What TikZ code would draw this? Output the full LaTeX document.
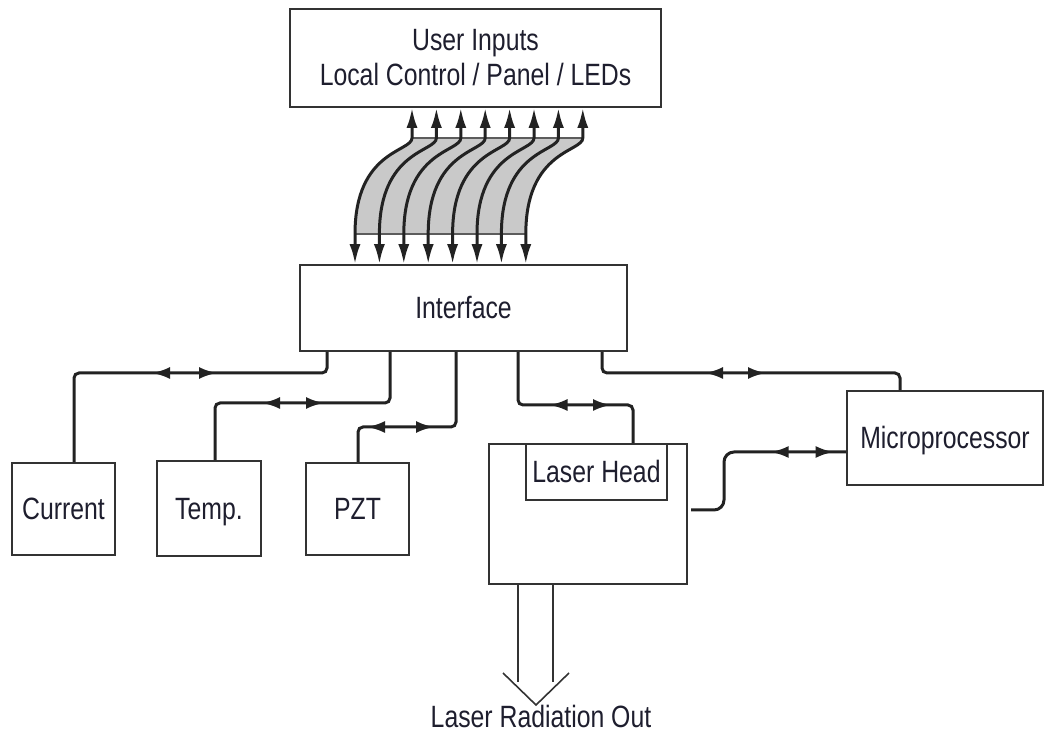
\documentclass[tikz,border=0pt]{standalone}
\usepackage{fontspec}
\setmainfont{Liberation Sans}[FakeStretch=0.805]
\usetikzlibrary{arrows.meta,decorations.markings,calc}
\definecolor{lsLine}{HTML}{222222}
\definecolor{lsFrame}{HTML}{333333}
\definecolor{lsBus}{HTML}{C9C9C9}
\definecolor{lsText}{HTML}{1E1E2E}
\tikzset{
  lshead/.tip={Latex[length=9pt,width=6pt]},
  lsbushead/.tip={Latex[length=10pt,width=5.5pt]},
  lsbox/.style={draw=lsFrame,line width=0.8pt,fill=white,inner sep=0pt,
                font=\fontsize{15.4}{17.5}\selectfont,text=lsText,align=center},
  lsone/.style={lsbox,text height=11pt,text depth=0pt},
  lstext/.style={inner sep=0pt,font=\fontsize{15.4}{17.5}\selectfont,text=lsText},
  lslink/.style={draw=lsLine,line width=1.5pt,rounded corners=2.5pt},
  lsmark/.style 2 args={postaction={decorate,decoration={markings,
      mark=at position #1 with {\arrowreversed{lshead}},
      mark=at position #2 with {\arrow{lshead}}}}},
  lsbus/.style={draw=lsLine,line width=1.5pt,{lsbushead}-{lsbushead}},
  lsbeam/.style={draw=lsFrame,line width=0.8pt}
}

\begin{document}
\begin{tikzpicture}[x=0.5pt,y=-0.5pt]
    \useasboundingbox (0,0) rectangle (1044,742);

    % blocks
    \node[lsbox,minimum width=185.5pt,minimum height=49pt] (ui) at (475.5,58)
      {User Inputs\\Local Control / Panel / LEDs};
    \node[lsone,minimum width=163.5pt,minimum height=43pt] (ifc) at (463.5,308)
      {Interface};
    \node[lsone,minimum width=51.5pt,minimum height=46pt] (cur) at (63.5,509) {Current};
    \node[lsone,minimum width=52pt,minimum height=47.5pt] (tmp) at (209,508.5) {Temp.};
    \node[lsone,minimum width=51.5pt,minimum height=46pt] (pzt) at (357.5,509) {PZT};
    \node[lsbox,minimum width=99pt,minimum height=70pt] (lsr) at (588,514) {};
    \node[lsone,minimum width=70.5pt,minimum height=28pt] (head) at (596.5,472) {Laser Head};
    \node[lsone,minimum width=98pt,minimum height=47pt] (mpu) at (945,438)
      {Microprocessor};

    % bus between panel and interface
    \foreach \i in {0,...,7} {
      \coordinate (b\i) at ({355+24.4*\i},234);
      \coordinate (t\i) at ({412+24.4*\i},138);
    }
    \fill[lsBus] (b0) .. controls +(0,-84) and +(0,14) .. (t0) -- (t7)
      .. controls +(0,14) and +(0,-84) .. (b7) -- cycle;
    \draw[lsFrame!80,line width=0.6pt] (b0) -- (b7) (t0) -- (t7);
    \foreach \i in {0,...,7}
      \draw[lsbus] (b\i |- ifc.north) -- (b\i)
        .. controls +(0,-84) and +(0,14) .. (t\i) -- (t\i |- ui.south);

    % control links
    \draw[lslink,lsmark={64.5pt}{97pt}] (ifc.south -| 327,0) |- (74,373)
      -- (cur.north -| 74,0);
    \draw[lslink,lsmark={57.5pt}{88.5pt}] (ifc.south -| 390,0) |- (215,403)
      -- (tmp.north -| 215,0);
    \draw[lslink,lsmark={47.5pt}{81pt}] (ifc.south -| 456,0) |- (358,427)
      -- (pzt.north -| 358,0);
    \draw[lslink,lsmark={41.25pt}{72pt}] (ifc.south -| 518,0) |- (633,405)
      -- (lsr.north -| 633,0);
    \draw[lslink,lsmark={61pt}{91.5pt}] (ifc.south -| 602,0) |- (900,373)
      -- (mpu.north -| 900,0);
    \coordinate (lsout) at (691,510);
    \draw[lslink,rounded corners=5pt,lsmark={64.5pt}{96pt}] (lsout) -| (724,452)
      -- (mpu.west |- 0,452);

    % output beam
    \coordinate (tip) at (536,705);
    \draw[lsbeam] (lsr.south -| 518,0) -- (518,682);
    \draw[lsbeam] (lsr.south -| 553,0) -- (553,682);
    \draw[lsbeam] (503,673) -- (tip) -- (569,673);
    \node[lstext] (out) at (541,716) {Laser Radiation Out};
\end{tikzpicture}
\end{document}
